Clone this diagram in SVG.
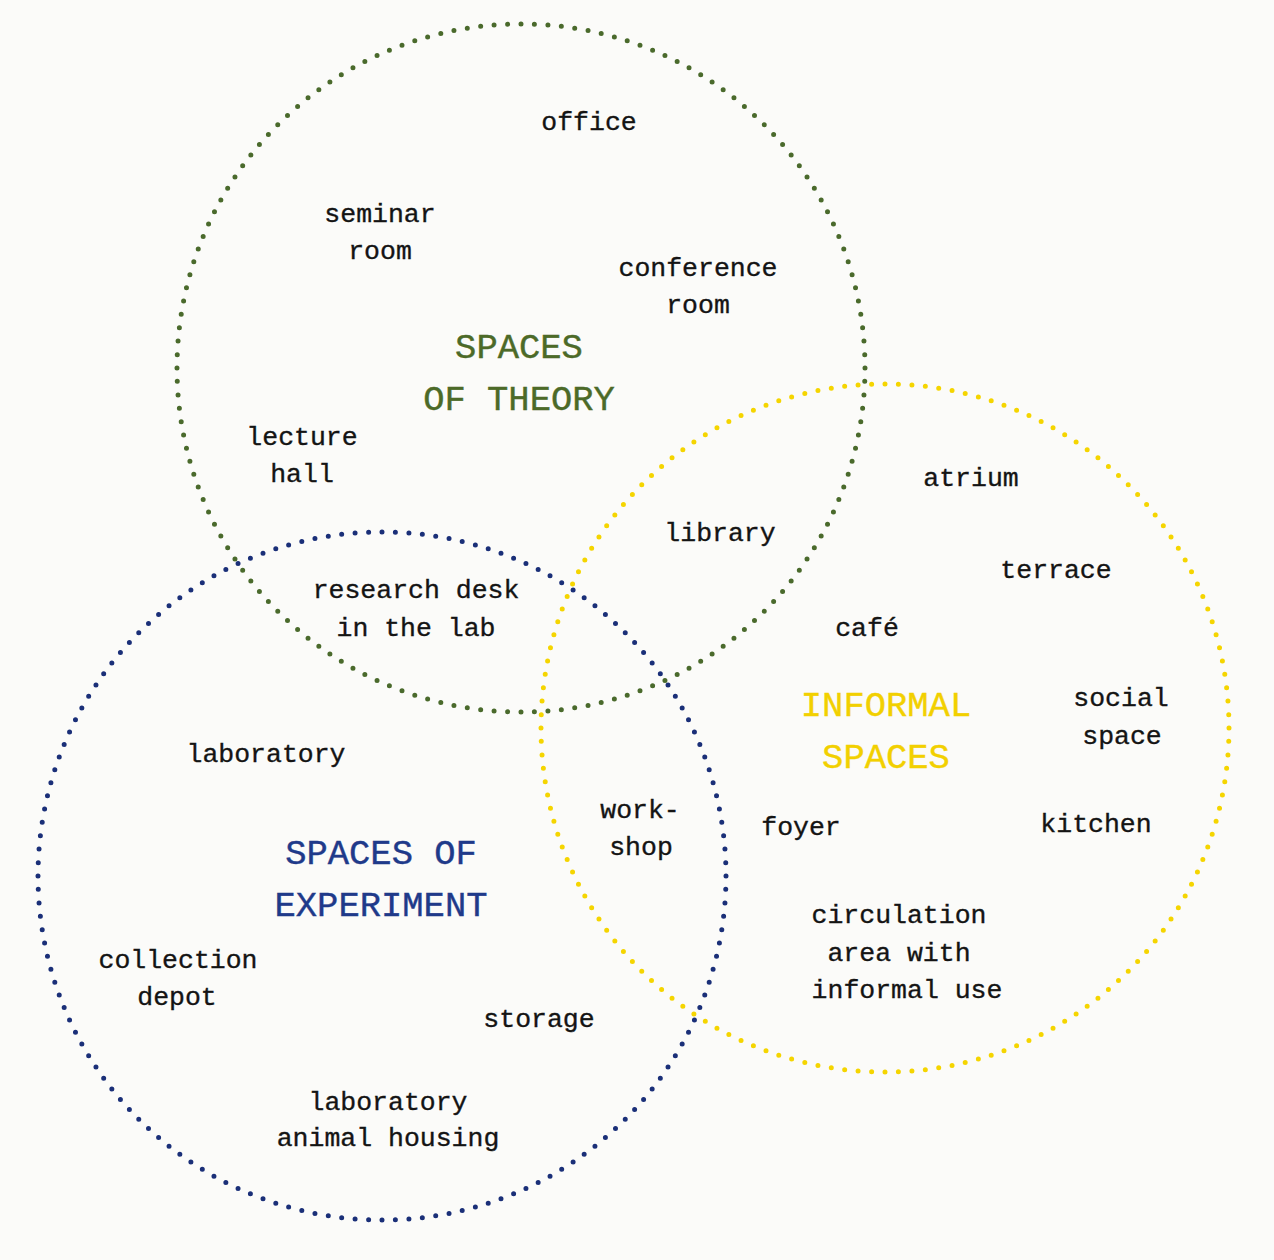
<svg xmlns="http://www.w3.org/2000/svg" width="1274" height="1260" viewBox="0 0 1274 1260">
<style>
.ring{fill:none;stroke-width:5;stroke-linecap:round;stroke-dasharray:0 1}
.t{font-family:"Liberation Mono","DejaVu Sans Mono",monospace;font-size:26.5px;fill:#141414;text-anchor:middle;stroke:#141414;stroke-width:0.35}
.h{font-family:"Liberation Mono","DejaVu Sans Mono",monospace;font-size:35.5px;text-anchor:middle;stroke-width:0.4}
.hg{fill:#4c6a28;stroke:#4c6a28}
.hy{fill:#f2d000;stroke:#f2d000}
.hb{fill:#1f3a8a;stroke:#1f3a8a}
</style>
<rect width="1274" height="1260" fill="#fbfbf9"/>
<g id="connectors"></g>
<g id="theory">
<circle class="ring" cx="521" cy="368" r="344" pathLength="160" stroke="#4a6a2c"/>
<text class="h hg" x="519" y="358">SPACES</text>
<text class="h hg" x="519" y="410">OF THEORY</text>
</g>
<g id="informal">
<circle class="ring" cx="885" cy="728" r="344" pathLength="160" stroke="#f5d500"/>
<text class="h hy" x="886" y="716">INFORMAL</text>
<text class="h hy" x="886" y="768">SPACES</text>
</g>
<g id="experiment">
<circle class="ring" cx="382" cy="876" r="344" pathLength="160" stroke="#1a2f78"/>
<text class="h hb" x="381" y="864">SPACES OF</text>
<text class="h hb" x="381" y="916">EXPERIMENT</text>
</g>
<g id="office"><text class="t" x="589" y="130">office</text></g>
<g id="seminar-room"><text class="t" x="380" y="222">seminar</text><text class="t" x="380" y="259">room</text></g>
<g id="conference-room"><text class="t" x="698" y="276">conference</text><text class="t" x="698" y="313">room</text></g>
<g id="lecture-hall"><text class="t" x="302" y="445">lecture</text><text class="t" x="302" y="482">hall</text></g>
<g id="atrium"><text class="t" x="971" y="486">atrium</text></g>
<g id="library"><text class="t" x="720" y="541">library</text></g>
<g id="terrace"><text class="t" x="1056" y="578">terrace</text></g>
<g id="research-desk"><text class="t" x="416" y="598">research desk</text><text class="t" x="416" y="636">in the lab</text></g>
<g id="cafe"><text class="t" x="867" y="636">café</text></g>
<g id="social-space"><text class="t" x="1121" y="706">social</text><text class="t" x="1122" y="744">space</text></g>
<g id="laboratory"><text class="t" x="266" y="762">laboratory</text></g>
<g id="workshop"><text class="t" x="640" y="818">work-</text><text class="t" x="641" y="855">shop</text></g>
<g id="foyer"><text class="t" x="801" y="835">foyer</text></g>
<g id="kitchen"><text class="t" x="1096" y="832">kitchen</text></g>
<g id="circulation"><text class="t" x="899" y="923">circulation</text><text class="t" x="899" y="961">area with</text><text class="t" x="907" y="998">informal use</text></g>
<g id="collection-depot"><text class="t" x="178" y="968">collection</text><text class="t" x="177" y="1005">depot</text></g>
<g id="storage"><text class="t" x="539" y="1027">storage</text></g>
<g id="animal-housing"><text class="t" x="388" y="1110">laboratory</text><text class="t" x="388" y="1146">animal housing</text></g>
</svg>
